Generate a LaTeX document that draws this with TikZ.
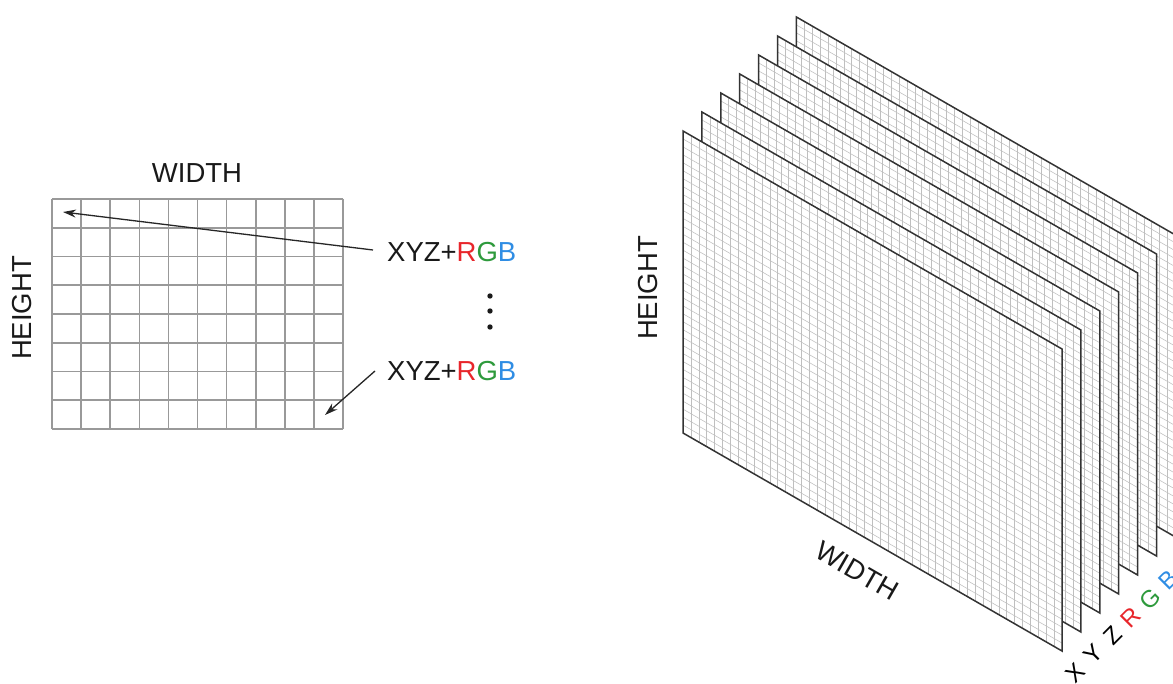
\documentclass[tikz,border=0pt]{standalone}
\usepackage{fontspec}
\setmainfont{Liberation Sans}
\usetikzlibrary{arrows.meta}
\definecolor{myred}{HTML}{E8262B}
\definecolor{mygreen}{HTML}{2E9A3C}
\definecolor{myblue}{HTML}{2F8DE4}
\begin{document}
\begin{tikzpicture}[x=1pt,y=-1pt,
  lgrid/.style={draw=black!40, line width=1.6pt},
  arr/.style={-{Stealth[length=13pt,width=8pt]}, line width=1.3pt, draw=black!85},
  pgrid/.style={draw=black!25, line width=0.55pt},
  pedge/.style={draw=black!80, line width=1.5pt, line join=miter},
  lbl/.style={font=\fontsize{27.5}{30}\selectfont, text=black!90, inner sep=0pt},
  ch/.style={font=\fontsize{24}{26}\selectfont, inner sep=0pt, rotate=45}]
\useasboundingbox (0,0) rectangle (1173,684);
\fill[white] (0,0) rectangle (1173,684);

% left grid
\foreach \j in {0,...,10} \draw[lgrid] ({52+29.1*\j},199) -- ({52+29.1*\j},429);
\foreach \k in {0,...,8} \draw[lgrid] (52,{199+28.75*\k}) -- (343,{199+28.75*\k});

\node[lbl] (w1) at (197,173) {WIDTH};
\node[lbl, rotate=90] (h1) at (22,308) {HEIGHT};
\node[lbl, anchor=west] (xa) at (387,252) {XYZ+\textcolor{myred}{R}\textcolor{mygreen}{G}\textcolor{myblue}{B}};
\node[lbl, anchor=west] (xb) at (387,371) {XYZ+\textcolor{myred}{R}\textcolor{mygreen}{G}\textcolor{myblue}{B}};
\coordinate (pa) at (63,212);
\coordinate (pb) at (325,415);
\draw[arr] ([xshift=-14pt,yshift=2pt]xa.west) -- (pa);
\draw[arr] ([xshift=-12pt]xb.west) -- (pb);
\foreach \yy in {296,311,327} \fill[black!90] (490,\yy) circle (2.7);

% stacked planes
\foreach \i in {6,5,...,0} {
  \pgfmathsetmacro\ox{683+18.9*\i}
  \pgfmathsetmacro\oy{131-19*\i}
  \fill[white] (\ox,\oy) -- ++(379,218) -- ++(0,302) -- ++(-379,-218) -- cycle;
  \foreach \j in {1,...,47} \draw[pgrid] ({\ox+7.895833*\j},{\oy+4.541667*\j}) -- ++(0,302);
  \foreach \k in {1,...,37} \draw[pgrid] (\ox,{\oy+7.947368*\k}) -- ++(379,218);
  \draw[pedge] (\ox,\oy) -- ++(379,218) -- ++(0,302) -- ++(-379,-218) -- cycle;
}

\node[lbl, rotate=-29.9] (w2) at (857,571) {WIDTH};
\node[lbl, rotate=90] (h2) at (648,288) {HEIGHT};
\foreach \c/\col [count=\n from 0] in {X/black,Y/black,Z/black,R/myred,G/mygreen,B/myblue}
  \node[ch, text=\col] (l\c) at ({1075+18.7*\n},{673-18.6*\n}) {\c};
\end{tikzpicture}
\end{document}
